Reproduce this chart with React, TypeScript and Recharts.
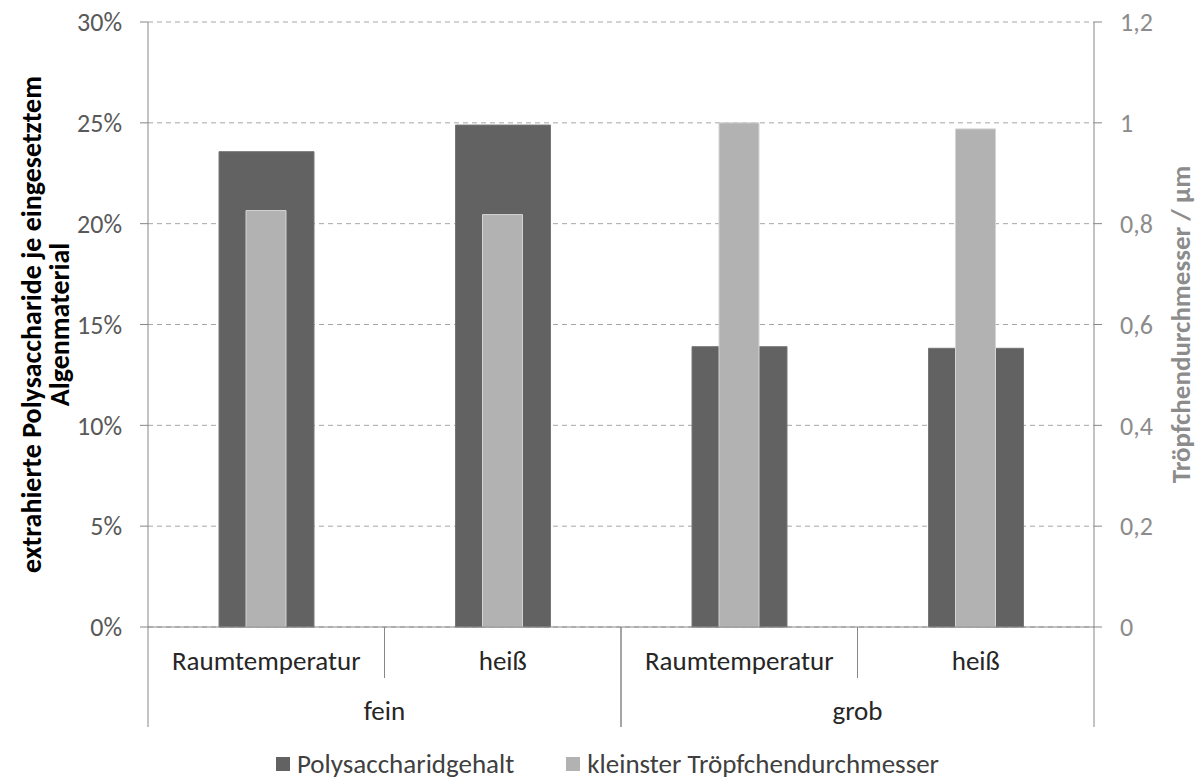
import React from "react";
import { ComposedChart, Bar, XAxis, YAxis, CartesianGrid, Legend } from "recharts";

// values
const subCategories = ["Raumtemperatur", "heiß", "Raumtemperatur", "heiß"];
const groupCategories = ["fein", "fein", "grob", "grob"];
const polysaccharidgehalt = [0.2357, 0.2489, 0.139, 0.1382];
const troepfchendurchmesser = [0.826, 0.818, 1.0, 0.988];
const leftTicks = [0, 0.05, 0.1, 0.15, 0.2, 0.25, 0.3];
const rightTicks = [0, 0.2, 0.4, 0.6, 0.8, 1, 1.2];

const seriesNames = ["Polysaccharidgehalt", "kleinster Tröpfchendurchmesser"];
const seriesColors = ["#626262", "#b2b2b2"];

const data = subCategories.map((sub, i) => ({
  key: `${groupCategories[i]}-${i}`,
  sub,
  group: groupCategories[i],
  poly: polysaccharidgehalt[i],
  tropf: troepfchendurchmesser[i],
}));

const W = 1199;
const H = 780;
const LEFT_W = 148;
const RIGHT_W = 105;
const PLOT_W = W - LEFT_W - RIGHT_W;
const BAND = PLOT_W / subCategories.length;
const GBAND = BAND * 2;
const SUB_H = 51;
const GROUP_H = 49;
const FONT = "Carlito, Calibri, Lato, sans-serif";
const AXIS_COLOR = "#878787";

const SubTick = (props: any) => {
  const { x, y, index } = props;
  const d = data[index];
  return (
    <g>
      {index % 2 === 1 && (
        <line x1={x - BAND / 2} x2={x - BAND / 2} y1={y} y2={y + SUB_H} stroke={AXIS_COLOR} />
      )}
      <text x={x} y={y + 33} textAnchor="middle" dominantBaseline="central" fontSize={27} fill="#262626">
        {d ? d.sub : ""}
      </text>
    </g>
  );
};

const GroupTick = (props: any) => {
  const { x, y, payload } = props;
  return (
    <g>
      <line x1={x - GBAND / 2} x2={x - GBAND / 2} y1={y - SUB_H} y2={y + GROUP_H} stroke={AXIS_COLOR} />
      <line x1={x + GBAND / 2} x2={x + GBAND / 2} y1={y - SUB_H} y2={y + GROUP_H} stroke={AXIS_COLOR} />
      <text x={x} y={y + 32} textAnchor="middle" dominantBaseline="central" fontSize={27} fill="#262626">
        {payload.value}
      </text>
    </g>
  );
};

const LeftTitle = (props: any) => {
  const vb = props.viewBox || { y: 22, height: 605 };
  const cy = vb.y + vb.height / 2;
  return (
    <g>
      <text x={31} y={cy} transform={`rotate(-90 31 ${cy})`} textAnchor="middle" dominantBaseline="central"
        fontSize={28} fontWeight="bold" fill="#000">
        extrahierte Polysaccharide je eingesetztem
      </text>
      <text x={59} y={cy} transform={`rotate(-90 59 ${cy})`} textAnchor="middle" dominantBaseline="central"
        fontSize={28} fontWeight="bold" fill="#000">
        Algenmaterial
      </text>
    </g>
  );
};

const RightTitle = (props: any) => {
  const vb = props.viewBox || { y: 22, height: 605 };
  const cy = vb.y + vb.height / 2;
  const x = 1180;
  return (
    <text x={x} y={cy} transform={`rotate(-90 ${x} ${cy})`} textAnchor="middle" dominantBaseline="central"
      fontSize={27} fontWeight="bold" fill="#8c8c8c">
      Tröpfchendurchmesser / µm
    </text>
  );
};

const LegendContent = () => (
  <div style={{ height: 53, display: "flex", justifyContent: "center", alignItems: "flex-end", paddingLeft: 16,
    boxSizing: "border-box", fontFamily: FONT }}>
    {seriesNames.map((name, i) => (
      <div key={name} style={{ display: "flex", alignItems: "center", marginRight: i === 0 ? 52 : 0 }}>
        <span style={{ width: 14, height: 14, background: seriesColors[i], display: "inline-block", marginRight: 7 }} />
        <span style={{ fontSize: 27, color: "#404040", lineHeight: "32px" }}>{name}</span>
      </div>
    ))}
  </div>
);

export default function App() {
  return (
    <div style={{ position: "fixed", left: 0, top: 0, width: W, height: H, background: "#fff" }}>
      <ComposedChart width={W} height={H} data={data} margin={{ top: 22, right: 0, bottom: 0, left: 0 }}
        style={{ fontFamily: FONT }}>
        <CartesianGrid xAxisId="a_main" yAxisId="left" vertical={false} stroke="#a6a6a6" strokeDasharray="5 4" />
        <XAxis xAxisId="a_main" dataKey="key" height={SUB_H} tickLine={false} tickSize={0} tickMargin={0}
          axisLine={{ stroke: AXIS_COLOR }} tick={<SubTick />} interval={0} />
        <XAxis xAxisId="b_group" dataKey="group" allowDuplicatedCategory={false} height={GROUP_H} tickLine={false}
          tickSize={0} tickMargin={0} axisLine={false} tick={<GroupTick />} interval={0} />
        <XAxis xAxisId="c_light" dataKey="key" hide />
        <YAxis yAxisId="left" width={LEFT_W} domain={[0, 0.3]} ticks={leftTicks} interval={0}
          tickFormatter={(v: number) => `${Math.round(v * 100)}%`} tickSize={8} tickMargin={18}
          axisLine={{ stroke: AXIS_COLOR }} tickLine={{ stroke: AXIS_COLOR }}
          tick={{ fill: "#595959", fontSize: 26 }} label={{ content: LeftTitle }} />
        <YAxis yAxisId="right" orientation="right" width={RIGHT_W} domain={[0, 1.2]} ticks={rightTicks} interval={0}
          tickFormatter={(v: number) => String(v).replace(".", ",")} tickSize={8} tickMargin={18}
          axisLine={{ stroke: AXIS_COLOR }} tickLine={{ stroke: AXIS_COLOR }}
          tick={{ fill: "#8c8c8c", fontSize: 26, textAnchor: "start" }} label={{ content: RightTitle }} />
        <Legend verticalAlign="bottom" height={53} content={<LegendContent />} />
        <Bar xAxisId="a_main" yAxisId="left" dataKey="poly" name={seriesNames[0]} fill={seriesColors[0]}
          stroke="#767676" strokeWidth={1} barSize={95} isAnimationActive={false} />
        <Bar xAxisId="c_light" yAxisId="right" dataKey="tropf" name={seriesNames[1]} fill={seriesColors[1]}
          stroke="#d4d4d4" strokeWidth={1} barSize={40} isAnimationActive={false} />
      </ComposedChart>
    </div>
  );
}
